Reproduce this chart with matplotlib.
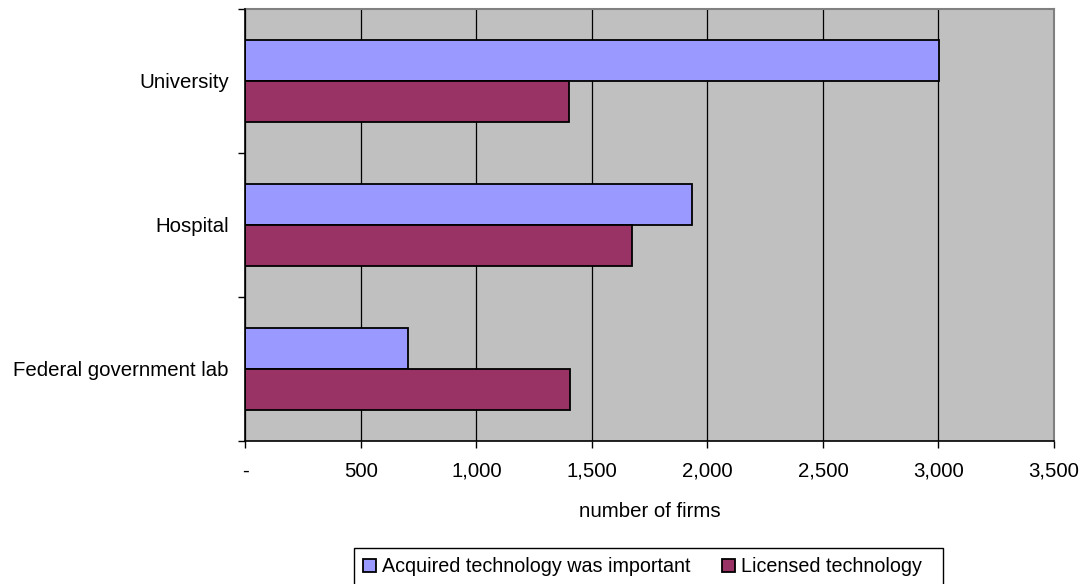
import matplotlib
matplotlib.use('Agg')
import matplotlib.pyplot as plt
import numpy as np
from matplotlib.ticker import FuncFormatter
from matplotlib.patches import Rectangle

plt.rcParams['font.family'] = ['Liberation Sans', 'DejaVu Sans']

# data
categories = ['Federal government lab', 'Hospital', 'University']
acquired = [705, 1934, 3003]
licensed = [1405, 1672, 1400]
series_names = ['Acquired technology was important', 'Licensed technology']
xticks = [0, 500, 1000, 1500, 2000, 2500, 3000, 3500]

W, H = 1085, 584
fig = plt.figure(figsize=(W / 100, H / 100), dpi=100)
fig.set_facecolor('white')
ax = fig.add_axes([0.2261, 0.2449, 0.9714 - 0.2261, 0.9846 - 0.2449])
ax.set_facecolor('#C0C0C0')

y = np.arange(len(categories))
h = 0.285
ax.barh(y + h / 2, acquired, height=h, color='#9999FF', edgecolor='black',
        linewidth=1.3, label=series_names[0], zorder=3)
ax.barh(y - h / 2, licensed, height=h, color='#993366', edgecolor='black',
        linewidth=1.3, label=series_names[1], zorder=3)

ax.set_xlim(0, 3500)
ax.set_ylim(-0.5, len(categories) - 0.5)
ax.set_xticks(xticks)
ax.xaxis.set_major_formatter(FuncFormatter(lambda v, p: '-' if v == 0 else '{:,.0f}'.format(v)))
ax.grid(axis='x', color='black', linewidth=0.9, zorder=1)

# category names centred, ticks on the boundaries
ax.set_yticks(np.arange(len(categories) + 1) - 0.5)
ax.set_yticklabels([])
ax.set_yticks(y, minor=True)
ax.set_yticklabels(categories, minor=True, fontsize=14.7)
ax.tick_params(axis='y', which='minor', length=0, pad=12)
ax.tick_params(axis='y', which='major', length=5, width=1, direction='out')
ax.tick_params(axis='x', length=5, width=1, direction='out', labelsize=14.7, pad=10)

for s in ['top', 'right']:
    ax.spines[s].set_color('#808080')
    ax.spines[s].set_linewidth(1.5)
for s in ['left', 'bottom']:
    ax.spines[s].set_color('black')
    ax.spines[s].set_linewidth(1.2)
    ax.spines[s].set_zorder(4)

ax.set_xlabel('number of firms', fontsize=14.7, labelpad=15)

# legend: frameless, with the Excel-style box drawn by hand (runs off the bottom edge)
leg = ax.legend(loc='center left', bbox_to_anchor=(363 / W, 1 - 567 / H), bbox_transform=fig.transFigure,
                ncol=2, fontsize=14.2, frameon=False, handlelength=0.66, handleheight=0.62,
                handletextpad=0.3, columnspacing=1.6, borderpad=0, borderaxespad=0)
fig.patches.append(Rectangle((354 / W, -0.05), (943 - 354) / W, 0.05 + (H - 548) / H,
                             transform=fig.transFigure, facecolor='none', edgecolor='black',
                             linewidth=1.0, clip_on=False))

fig.savefig('out.png', dpi=100, facecolor='white')
